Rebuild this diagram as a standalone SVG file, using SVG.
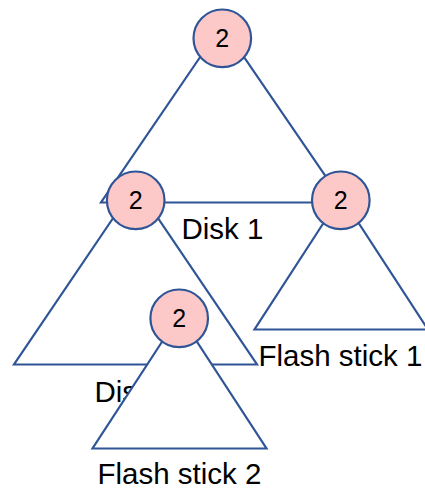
<svg xmlns="http://www.w3.org/2000/svg" width="425" height="489" viewBox="0 0 425 489">
  <style>
    .tri { fill: #ffffff; stroke: #2f5597; stroke-width: 2.2; stroke-linejoin: miter; }
    .node circle { fill: #fcc8c8; stroke: #2f5597; stroke-width: 2.2; }
    .node text { font-family: "Liberation Sans", Arial, sans-serif; font-size: 25px; fill: #000000; text-anchor: middle; }
    .label { font-family: "Liberation Sans", Arial, sans-serif; font-size: 29.5px; fill: #000000; text-anchor: middle; }
  </style>
  <rect width="425" height="489" fill="#ffffff"/>

  <!-- subtrees, drawn as triangles hanging from their root nodes -->
  <g id="connectors">
    <g id="disk1">
      <polygon class="tri" points="222,25 101,202.5 343.5,202.5"/>
      <text class="label" x="222.5" y="239">Disk 1</text>
    </g>
    <g id="disk2">
      <polygon class="tri" points="135.5,185 14,364.5 257,364.5"/>
      <text class="label" x="135.5" y="401.5">Disk 2</text>
    </g>
    <g id="flash1">
      <polygon class="tri" points="341,196 254.5,329.5 428,329.5"/>
      <text class="label" x="340.5" y="366">Flash stick 1</text>
    </g>
    <g id="flash2">
      <polygon class="tri" points="179.5,315 92.5,448.5 266.5,448.5"/>
      <text class="label" x="179.5" y="483.5">Flash stick 2</text>
    </g>
  </g>

  <!-- nodes -->
  <g id="node-root" class="node">
    <circle cx="222.3" cy="38.3" r="28.8"/>
    <text x="222.3" y="47.3">2</text>
  </g>
  <g id="node-left" class="node">
    <circle cx="135.7" cy="200.3" r="28.8"/>
    <text x="135.7" y="209.3">2</text>
  </g>
  <g id="node-right" class="node">
    <circle cx="340.8" cy="200.3" r="28.8"/>
    <text x="340.8" y="209.3">2</text>
  </g>
  <g id="node-bottom" class="node">
    <circle cx="179.2" cy="318.3" r="28.8"/>
    <text x="179.2" y="327.3">2</text>
  </g>
</svg>
